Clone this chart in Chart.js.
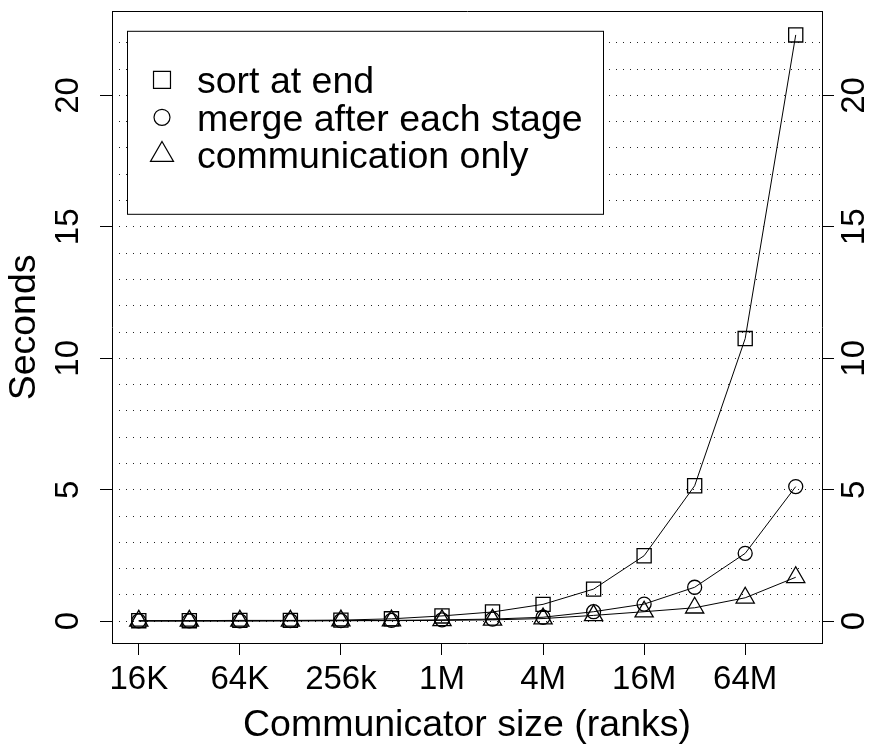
<!DOCTYPE html>
<html lang="en">
<head>
    <meta charset="UTF-8">
    <title>Communicator size vs seconds</title>
    <style>
        html, body {
            margin: 0;
            padding: 0;
            background: #fff;
        }
        #chart {
            display: block;
        }
    </style>
</head>
<body>
    <canvas id="chart" width="870" height="744"></canvas>

    <script src="https://cdn.jsdelivr.net/npm/chart.js@4/dist/chart.umd.min.js"></script>
    <script>
        // data
        const sizes = ['16K', '32K', '64K', '128K', '256k', '512K', '1M', '2M', '4M', '8M', '16M', '32M', '64M', '128M'];
        const sortAtEnd = [0.02, 0.02, 0.03, 0.03, 0.04, 0.09, 0.2, 0.35, 0.64, 1.22, 2.49, 5.15, 10.75, 22.3];
        const mergeEach = [0.01, 0.01, 0.01, 0.02, 0.02, 0.03, 0.05, 0.08, 0.15, 0.36, 0.65, 1.29, 2.58, 5.12];
        const commOnly = [0.01, 0.01, 0.01, 0.01, 0.02, 0.02, 0.03, 0.05, 0.1, 0.22, 0.36, 0.51, 0.89, 1.67];
        const seriesNames = ['sort at end', 'merge after each stage', 'communication only'];
        const xTickIdx = [0, 2, 4, 6, 8, 10, 12];
        const yTicks = [0, 5, 10, 15, 20];
        const gridVals = [0, 1, 2, 3, 4, 5, 6, 7, 8, 9, 10, 11, 12, 13, 14, 15, 16, 17, 18, 19, 20, 21, 22];

        const FONT = '"Liberation Sans", Arial, sans-serif';
        const TICK_SIZE = 33;
        const LAB_SIZE = 37.5;

        function toPoints(arr) {
            return arr.map((v, i) => ({ x: i, y: v }));
        }

        function drawSymbol(ctx, style, r, x, y) {
            ctx.beginPath();
            if (style === 'rect') {
                const h = r * Math.SQRT1_2;
                ctx.rect(x - h, y - h, 2 * h, 2 * h);
            } else if (style === 'circle') {
                ctx.arc(x, y, r, 0, Math.PI * 2);
            } else {
                ctx.moveTo(x, y - r);
                ctx.lineTo(x + r * Math.sin(2 * Math.PI / 3), y + r / 2);
                ctx.lineTo(x - r * Math.sin(2 * Math.PI / 3), y + r / 2);
                ctx.closePath();
            }
            ctx.stroke();
        }

        // R style rotated tick labels on both y axes
        const rotatedYLabels = {
            id: 'rotatedYLabels',
            afterDraw(chart) {
                const ctx = chart.ctx;
                ctx.save();
                ctx.fillStyle = '#000';
                ctx.font = TICK_SIZE + 'px ' + FONT;
                ctx.textAlign = 'center';
                ctx.textBaseline = 'middle';
                ['y', 'y2'].forEach(id => {
                    const s = chart.scales[id];
                    const x = id === 'y' ? s.right - 43.5 : s.left + 33;
                    s.ticks.forEach(t => {
                        const py = s.getPixelForValue(t.value);
                        ctx.save();
                        ctx.translate(x, py);
                        ctx.rotate(-Math.PI / 2);
                        ctx.fillText(String(t.value), 0, 0);
                        ctx.restore();
                    });
                });
                ctx.restore();
            }
        };

        // legend box inside the plot, top left
        const boxLegend = {
            id: 'boxLegend',
            afterDatasetsDraw(chart) {
                const ctx = chart.ctx;
                const area = chart.chartArea;
                const bx = area.left + 15, by = area.top + 19, bw = 476, bh = 183;
                ctx.save();
                ctx.fillStyle = '#fff';
                ctx.fillRect(bx, by, bw, bh);
                ctx.strokeStyle = '#000';
                ctx.lineWidth = 1;
                ctx.strokeRect(bx + 0.5, by + 0.5, bw, bh);
                ctx.font = LAB_SIZE + 'px ' + FONT;
                ctx.fillStyle = '#000';
                ctx.textAlign = 'left';
                ctx.textBaseline = 'middle';
                const legendR = { rect: 12, circle: 8, triangle: 13.3 };
                chart.data.datasets.forEach((ds, i) => {
                    const cy = by + 52 + i * 37.5;
                    ctx.lineWidth = 1.2;
                    drawSymbol(ctx, ds.pointStyle, legendR[ds.pointStyle], bx + 35, cy - 3);
                    ctx.fillText(ds.label, bx + 70, cy);
                });
                ctx.restore();
            }
        };

        const lineStyle = {
            borderColor: '#000',
            borderWidth: 1,
            pointBorderColor: '#000',
            pointBackgroundColor: 'rgba(0,0,0,0)',
            pointBorderWidth: 1.3,
            tension: 0,
            fill: false
        };

        new Chart(document.getElementById('chart'), {
            type: 'line',
            data: {
                datasets: [
                    { ...lineStyle, label: seriesNames[0], data: toPoints(sortAtEnd), pointStyle: 'rect', pointRadius: 10 },
                    { ...lineStyle, label: seriesNames[1], data: toPoints(mergeEach), pointStyle: 'circle', pointRadius: 7 },
                    { ...lineStyle, label: seriesNames[2], data: toPoints(commOnly), pointStyle: 'triangle', pointRadius: 10.5 }
                ]
            },
            options: {
                responsive: false,
                animation: false,
                devicePixelRatio: 1,
                layout: { padding: 0 },
                plugins: {
                    legend: { display: false },
                    tooltip: { enabled: false }
                },
                scales: {
                    x: {
                        type: 'linear',
                        position: 'bottom',
                        min: -0.53,
                        max: 13.52,
                        afterBuildTicks: s => { s.ticks = xTickIdx.map(v => ({ value: v })); },
                        afterFit: s => { s.height = 101; },
                        ticks: {
                            callback: v => sizes[v],
                            font: { family: FONT, size: TICK_SIZE },
                            color: '#000',
                            padding: 5,
                            maxRotation: 0,
                            autoSkip: false
                        },
                        grid: { drawOnChartArea: false, tickLength: 12, color: '#000' },
                        border: { display: true, color: '#000', width: 1 },
                        title: {
                            display: true,
                            text: 'Communicator size (ranks)',
                            font: { family: FONT, size: LAB_SIZE, lineHeight: 1 },
                            color: '#000',
                            padding: 0
                        }
                    },
                    xt: {
                        type: 'linear',
                        position: 'top',
                        min: -0.53,
                        max: 13.52,
                        afterFit: s => { s.height = 8; },
                        ticks: { display: false },
                        grid: { display: false, drawTicks: false },
                        border: { display: true, color: '#000', width: 1 }
                    },
                    y: {
                        type: 'linear',
                        position: 'left',
                        min: -0.83,
                        max: 23.18,
                        afterBuildTicks: s => { s.ticks = yTicks.map(v => ({ value: v })); },
                        afterFit: s => { s.width = 112; },
                        ticks: { display: false },
                        grid: { drawOnChartArea: false, tickLength: 12, color: '#000' },
                        border: { display: true, color: '#000', width: 1 },
                        title: {
                            display: true,
                            text: 'Seconds',
                            font: { family: FONT, size: LAB_SIZE, lineHeight: 1 },
                            color: '#000',
                            padding: { top: 6, bottom: 0 }
                        }
                    },
                    yg: {
                        type: 'linear',
                        position: 'left',
                        min: -0.83,
                        max: 23.18,
                        afterBuildTicks: s => { s.ticks = gridVals.map(v => ({ value: v })); },
                        afterFit: s => { s.width = 0; },
                        ticks: { display: false },
                        grid: { drawTicks: false, color: '#222', borderDash: [1, 6], lineWidth: 1 },
                        border: { display: false, dash: [1, 6] }
                    },
                    y2: {
                        type: 'linear',
                        position: 'right',
                        min: -0.83,
                        max: 23.18,
                        afterBuildTicks: s => { s.ticks = yTicks.map(v => ({ value: v })); },
                        afterFit: s => { s.width = 48; },
                        ticks: { display: false },
                        grid: { drawOnChartArea: false, tickLength: 12, color: '#000' },
                        border: { display: true, color: '#000', width: 1 }
                    }
                }
            },
            plugins: [rotatedYLabels, boxLegend]
        });
    </script>
</body>
</html>
